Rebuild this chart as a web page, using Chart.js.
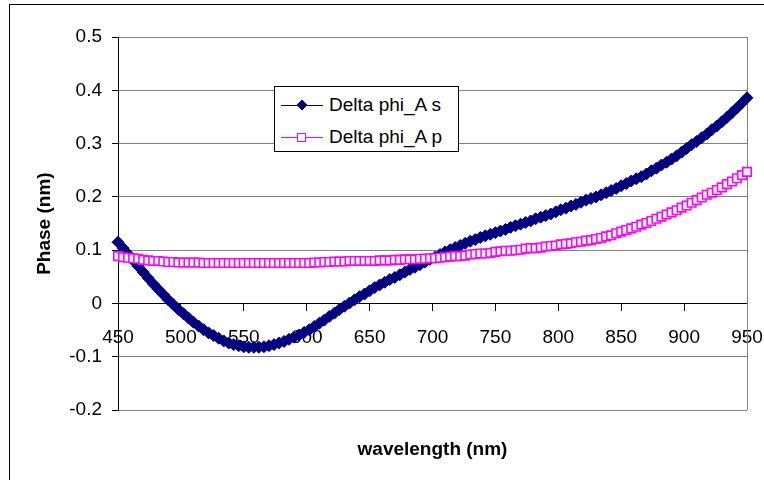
<!DOCTYPE html>
<html>
<head>
<meta charset="utf-8">
<script src="https://cdn.jsdelivr.net/npm/chart.js@4.4.1/dist/chart.umd.min.js"></script>
<style>
  html, body { margin: 0; padding: 0; background: #fff; overflow: hidden; }
  #wrap { position: relative; width: 764px; height: 480px; }
  #frame { position: absolute; left: 9px; top: 4px; width: 800px; height: 520px; border: 1px solid #000; pointer-events: none; }
  #legend { position: absolute; left: 274px; top: 86px; width: 183px; height: 62px; border: 1px solid #000; background: #fff;
            font: 19px "Liberation Sans", Arial, sans-serif; color: #000; padding-top: 2px; box-sizing: content-box; }
  #legend .row { display: flex; align-items: center; height: 32px; }
  #legend svg { margin-left: 6px; margin-right: 6px; flex: none; }
</style>
</head>
<body>
<div id="wrap">
  <canvas id="chart" width="764" height="480"></canvas>
  <div id="frame"></div>
  <div id="legend"></div>
</div>
<script>
// wavelength (nm) of every point
const wavelength = [
  450, 454, 458, 462, 466, 470, 474, 478, 482, 486,
  490, 494, 498, 502, 506, 510, 514, 518, 522, 526,
  530, 534, 538, 542, 546, 550, 554, 558, 562, 566,
  570, 574, 578, 582, 586, 590, 594, 598, 602, 606,
  610, 614, 618, 622, 626, 630, 634, 638, 642, 646,
  650, 654, 658, 662, 666, 670, 674, 678, 682, 686,
  690, 694, 698, 702, 706, 710, 714, 718, 722, 726,
  730, 734, 738, 742, 746, 750, 754, 758, 762, 766,
  770, 774, 778, 782, 786, 790, 794, 798, 802, 806,
  810, 814, 818, 822, 826, 830, 834, 838, 842, 846,
  850, 854, 858, 862, 866, 870, 874, 878, 882, 886,
  890, 894, 898, 902, 906, 910, 914, 918, 922, 926,
  930, 934, 938, 942, 946, 950
];

// Delta phi_A s
const phiS = [
  0.115, 0.104, 0.093, 0.081, 0.070, 0.059, 0.048, 0.037, 0.027, 0.017,
  0.007, -0.002, -0.011, -0.019, -0.027, -0.035, -0.042, -0.049, -0.055, -0.060,
  -0.065, -0.070, -0.074, -0.077, -0.079, -0.081, -0.082, -0.082, -0.082, -0.081,
  -0.079, -0.077, -0.074, -0.071, -0.067, -0.063, -0.059, -0.054, -0.049, -0.043,
  -0.037, -0.031, -0.024, -0.018, -0.011, -0.005, 0.001, 0.007, 0.013, 0.018,
  0.024, 0.030, 0.035, 0.040, 0.045, 0.049, 0.054, 0.059, 0.064, 0.068,
  0.073, 0.078, 0.083, 0.087, 0.092, 0.097, 0.101, 0.105, 0.109, 0.113,
  0.117, 0.120, 0.124, 0.127, 0.130, 0.133, 0.136, 0.139, 0.143, 0.146,
  0.149, 0.152, 0.155, 0.159, 0.162, 0.165, 0.168, 0.172, 0.176, 0.179,
  0.183, 0.186, 0.190, 0.194, 0.197, 0.200, 0.204, 0.208, 0.212, 0.216,
  0.221, 0.225, 0.230, 0.234, 0.238, 0.243, 0.249, 0.254, 0.260, 0.265,
  0.271, 0.277, 0.284, 0.291, 0.298, 0.304, 0.311, 0.318, 0.326, 0.333,
  0.341, 0.349, 0.358, 0.367, 0.376, 0.386
];

// Delta phi_A p
const phiP = [
  0.089, 0.087, 0.086, 0.085, 0.084, 0.082, 0.081, 0.080, 0.080, 0.079,
  0.078, 0.078, 0.077, 0.077, 0.077, 0.077, 0.077, 0.076, 0.076, 0.076,
  0.076, 0.076, 0.076, 0.076, 0.076, 0.076, 0.076, 0.076, 0.076, 0.076,
  0.076, 0.076, 0.076, 0.076, 0.076, 0.076, 0.076, 0.076, 0.076, 0.077,
  0.077, 0.078, 0.078, 0.079, 0.079, 0.079, 0.080, 0.080, 0.080, 0.080,
  0.080, 0.080, 0.081, 0.081, 0.081, 0.082, 0.082, 0.083, 0.083, 0.083,
  0.084, 0.084, 0.085, 0.085, 0.086, 0.087, 0.088, 0.089, 0.089, 0.090,
  0.092, 0.093, 0.094, 0.094, 0.095, 0.097, 0.098, 0.099, 0.099, 0.100,
  0.101, 0.103, 0.104, 0.104, 0.105, 0.107, 0.108, 0.109, 0.111, 0.112,
  0.113, 0.115, 0.116, 0.118, 0.119, 0.121, 0.123, 0.126, 0.128, 0.132,
  0.135, 0.138, 0.141, 0.144, 0.148, 0.151, 0.155, 0.159, 0.163, 0.167,
  0.171, 0.175, 0.180, 0.184, 0.189, 0.194, 0.199, 0.204, 0.208, 0.213,
  0.218, 0.224, 0.229, 0.235, 0.241, 0.247
];

const xTicks = [450, 500, 550, 600, 650, 700, 750, 800, 850, 900, 950];
const yTicks = [-0.2, -0.1, 0, 0.1, 0.2, 0.3, 0.4, 0.5];

const FONT = '"Liberation Sans", Arial, sans-serif';
Chart.defaults.font.family = FONT;
Chart.defaults.font.size = 19;
Chart.defaults.color = '#000';

// grey line on the right edge of the plot area
const plotFrame = {
  id: 'plotFrame',
  beforeDatasetsDraw(chart) {
    const { ctx, chartArea: a } = chart;
    const x = Math.round(a.right) + 0.5;
    ctx.save();
    ctx.strokeStyle = '#808080';
    ctx.lineWidth = 1;
    ctx.beginPath();
    ctx.moveTo(x, a.top);
    ctx.lineTo(x, a.bottom);
    ctx.stroke();
    ctx.restore();
  }
};

const toPoints = (ys) => wavelength.map((w, i) => ({ x: w, y: ys[i] }));

const chart = new Chart(document.getElementById('chart'), {
  type: 'line',
  data: {
    datasets: [
      {
        label: 'Delta phi_A s',
        data: toPoints(phiS),
        borderColor: '#000080',
        backgroundColor: '#000080',
        borderWidth: 5,
        pointStyle: 'rectRot',
        pointRadius: 6,
        pointBorderWidth: 1,
        pointBackgroundColor: '#000080',
        clip: false,
        order: 2
      },
      {
        label: 'Delta phi_A p',
        data: toPoints(phiP),
        borderColor: '#FF00FF',
        backgroundColor: '#FFFFFF',
        borderWidth: 1,
        pointStyle: 'rect',
        pointRadius: 6,
        pointBorderWidth: 1.6,
        pointBackgroundColor: '#FFFFFF',
        clip: false,
        order: 1
      }
    ]
  },
  options: {
    responsive: false,
    animation: false,
    devicePixelRatio: 1,
    events: [],
    layout: { padding: { left: 20, top: 37, right: 17, bottom: 19 } },
    plugins: {
      legend: { display: false },
      tooltip: { enabled: false },
      title: {
        display: true,
        position: 'bottom',
        fullSize: false,
        text: 'wavelength (nm)',
        font: { size: 19, weight: 'bold' },
        color: '#000',
        padding: { top: 28, bottom: 0 }
      }
    },
    scales: {
      x: {
        type: 'linear',
        position: { y: 0 },
        min: 450,
        max: 950,
        afterBuildTicks: (scale) => { scale.ticks = xTicks.map(v => ({ value: v })); },
        afterFit: (scale) => { scale.paddingLeft = 0; scale.paddingRight = 0; },
        ticks: { autoSkip: false, maxRotation: 0, padding: 16, color: '#000' },
        grid: { drawOnChartArea: false, tickLength: 7, tickColor: '#000' },
        border: { color: '#000', width: 1 }
      },
      y: {
        min: -0.2,
        max: 0.5,
        afterBuildTicks: (scale) => { scale.ticks = yTicks.map(v => ({ value: v })); },
        afterFit: (scale) => { scale.width = 98; },
        ticks: {
          padding: 10,
          color: '#000',
          callback: (v) => String(+v.toFixed(1))
        },
        grid: {
          color: (ctx) => (ctx.tick && ctx.tick.value === 0 ? '#000' : '#808080'),
          tickColor: '#000',
          tickLength: 6
        },
        border: { color: '#000', width: 1 },
        title: {
          display: true,
          text: 'Phase (nm)',
          font: { size: 19, weight: 'bold' },
          color: '#000',
          padding: { top: 13, bottom: 0 }
        }
      }
    }
  },
  plugins: [plotFrame]
});

// legend in the Excel style: line with the marker in its middle
const legendBox = document.getElementById('legend');
chart.data.datasets.forEach((ds) => {
  const row = document.createElement('div');
  row.className = 'row';
  const marker = ds.pointStyle === 'rectRot'
    ? `<polygon points="21,2 26,7 21,12 16,7" fill="${ds.pointBackgroundColor}" stroke="${ds.borderColor}" stroke-width="1"/>`
    : `<rect x="16.5" y="3.5" width="8" height="8" fill="${ds.pointBackgroundColor}" stroke="${ds.borderColor}" stroke-width="1"/>`;
  row.innerHTML =
    `<svg width="42" height="14" viewBox="0 0 42 14"><line x1="0" y1="7.5" x2="42" y2="7.5" stroke="${ds.borderColor}" stroke-width="1"/>${marker}</svg>` +
    `<span>${ds.label}</span>`;
  legendBox.appendChild(row);
});
</script>
</body>
</html>
